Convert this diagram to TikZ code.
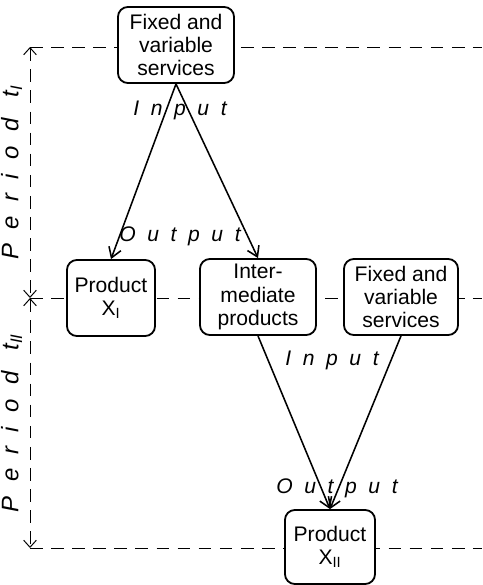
\documentclass[tikz,border=0pt]{standalone}
\usepackage{fontspec}
\setmainfont{Liberation Sans}
\usetikzlibrary{arrows.meta}
\newcommand{\nosp}[1]{{\addfontfeatures{LetterSpace=0}#1}}
\tikzset{
  box/.style={draw, rounded corners=7pt, line width=1.3pt, fill=white, align=center,
    inner sep=1pt, font=\fontsize{15}{16.5}\selectfont},
  flow/.style={-{Straight Barb[length=7pt,width=9pt]}, line width=1.1pt},
  guide/.style={dashed, dash pattern=on 9pt off 6pt, line width=0.7pt},
  period/.style={guide, {Straight Barb[length=5pt,width=9pt]}-{Straight Barb[length=5pt,width=9pt]}},
  lbl/.style={font=\fontsize{15}{17}\selectfont\itshape\addfontfeatures{LetterSpace=55}},
  plbl/.style={font=\fontsize{17}{19}\selectfont\itshape\addfontfeatures{LetterSpace=60}}
}
\begin{document}
\begin{tikzpicture}[x=0.025cm, y=-0.025cm]
  \useasboundingbox (0,0) rectangle (482,585);
  % Grenzen der Perioden
  \coordinate (t0) at (30,47);
  \coordinate (t1) at (30,298);
  \coordinate (t2) at (30,548);
  \foreach \c in {t0, t1, t2} {
    \draw[guide] (\c) -- (482,0 |- \c);
  }
  \draw[period] (t0) -- (t1) node[midway, left=2pt, rotate=90, anchor=south, plbl] {Period t\textsubscript{\nosp{I}}};
  \draw[period] (t1) -- (t2) node[midway, left=2pt, rotate=90, anchor=south, plbl] {Period t\textsubscript{\nosp{II}}};
  % Kästen
  \node[box, minimum width=2.9cm, minimum height=1.9cm] (serv1) at (176,45) {Fixed and\\variable\\services};
  \node[box, minimum width=2.2cm, minimum height=1.9cm] (prod1) at (111,298) {Product\\X\textsubscript{I}};
  \node[box, minimum width=2.9cm, minimum height=1.9cm] (inter) at (258,297) {Inter-\\mediate\\products};
  \node[box, minimum width=2.85cm, minimum height=1.9cm] (serv2) at (401,297) {Fixed and\\variable\\services};
  \node[box, minimum width=2.25cm, minimum height=1.85cm] (prod2) at (330,547) {Product\\X\textsubscript{II}};
  % Pfeile
  \foreach \x/\y in {serv1/prod1, serv1/inter} {
    \draw[flow] (\x.south) -- (\y.north);
  }
  \foreach \x/\y in {inter/prod2, serv2/prod2} {
    \draw[flow] (\x.south) -- (\y.north);
  }
  \node[lbl] (in1) at (180,110) {Input};
  \node[lbl] (out1) at (180,236) {Output};
  \node[lbl] (in2) at (332,360) {Input};
  \node[lbl] (out2) at (337,488) {Output};
\end{tikzpicture}
\end{document}
